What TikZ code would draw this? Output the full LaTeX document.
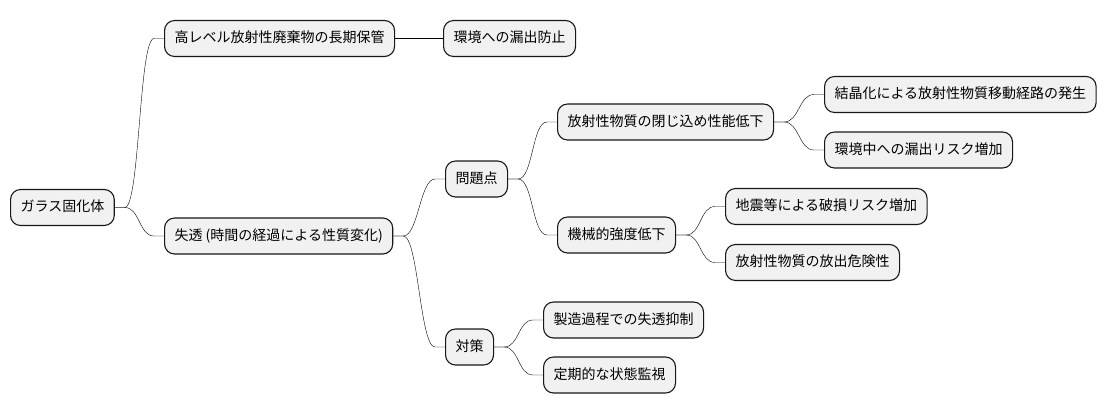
\documentclass[tikz,border=0pt]{standalone}
\usepackage{fontspec}
\setmainfont{Noto Sans CJK JP}
\usetikzlibrary{calc}
\definecolor{boxfill}{HTML}{F1F1F1}
\definecolor{edgecol}{HTML}{181818}

\begin{document}
\begin{tikzpicture}[x=1pt, y=-1pt,
    topic/.style={draw=edgecol, fill=boxfill, line width=1.1pt, rounded corners=10pt, anchor=west,
      inner xsep=10pt, inner ysep=0pt, minimum height=36pt, text height=11pt, text depth=3pt,
      font=\fontsize{14pt}{16pt}\selectfont},
    branch/.style={draw=edgecol, line width=0.8pt,
      to path={-- ++(10,0) .. controls +(15,0) and +(-15,0) .. ($(\tikztotarget)+(-10,0)$) -- (\tikztotarget)}}]
    \useasboundingbox (0,0) rectangle (1106,415);
    % root and first level
    \node[topic] (root) at (10,207.5) {ガラス固化体};
    \node[topic] (storage) at (164,38.5) {高レベル放射性廃棄物の長期保管};
    \node[topic] (leak) at (443,38.5) {環境への漏出防止};
    \node[topic] (devit) at (164,236) {失透 (時間の経過による性質変化)};
    % problems
    \node[topic] (issue) at (445,179) {問題点};
    \node[topic] (confine) at (557,122) {放射性物質の閉じ込め性能低下};
    \node[topic] (cryst) at (824,94.5) {結晶化による放射性物質移動経路の発生};
    \node[topic] (envrisk) at (824,150) {環境中への漏出リスク増加};
    \node[topic] (mech) at (557,235) {機械的強度低下};
    \node[topic] (quake) at (725,206.5) {地震等による破損リスク増加};
    \node[topic] (release) at (725,262.5) {放射性物質の放出危険性};
    % countermeasures
    \node[topic] (measure) at (445,347) {対策};
    \node[topic] (suppress) at (543,320) {製造過程での失透抑制};
    \node[topic] (monitor) at (543,375) {定期的な状態監視};

    \draw (root.east) to[branch] (storage.west);
    \draw (root.east) to[branch] (devit.west);
    \draw (storage.east) to[branch] (leak.west);
    \draw (devit.east) to[branch] (issue.west);
    \draw (devit.east) to[branch] (measure.west);
    \draw (issue.east) to[branch] (confine.west);
    \draw (issue.east) to[branch] (mech.west);
    \draw (confine.east) to[branch] (cryst.west);
    \draw (confine.east) to[branch] (envrisk.west);
    \draw (mech.east) to[branch] (quake.west);
    \draw (mech.east) to[branch] (release.west);
    \draw (measure.east) to[branch] (suppress.west);
    \draw (measure.east) to[branch] (monitor.west);
\end{tikzpicture}
\end{document}
